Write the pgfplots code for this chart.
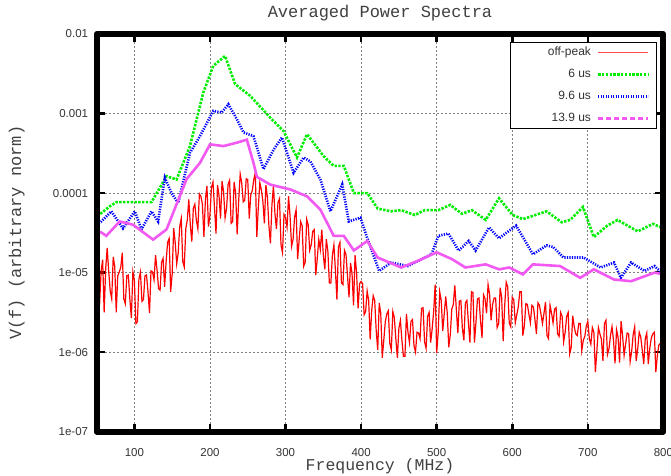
\documentclass[border=0pt]{standalone}
\usepackage{fontspec}
\setmainfont{Liberation Sans}
\newfontfamily\cour{Liberation Mono}
\usepackage{pgfplots}
\pgfplotsset{compat=1.18}

\definecolor{offred}{rgb}{1,0,0}
\definecolor{grn}{rgb}{0,0.93,0}
\definecolor{blu}{rgb}{0,0,1}
\definecolor{mag}{rgb}{0.95,0.35,0.95}

\begin{document}
\begin{tikzpicture}
\useasboundingbox (-96.6pt,-43.3pt) rectangle (574.4pt,431.7pt);
\begin{axis}[
    at={(0pt,0pt)}, anchor=south west,
    scale only axis, width=566.8pt, height=397.7pt,
    xmin=50, xmax=800, ymin=1e-7, ymax=1e-2, ymode=log,
    xtick={100,200,...,800},
    ytick={1e-7,1e-6,1e-5,1e-4,1e-3,1e-2},
    yticklabels={1e-07,1e-06,1e-05,0.0001,0.001,0.01},
    minor tick length=0pt,
    grid=major,
    grid style={black!50, line width=0.7pt, dash pattern=on 2pt off 2pt},
    axis line style={draw=none},
    tick align=inside,
    major tick length=8pt,
    tick style={black, line width=2.5pt},
    ticklabel style={font=\fontsize{11.5}{13}\selectfont, text=black!80},
    /pgf/number format/assume math mode=true,
    xticklabel style={anchor=base, inner sep=0pt, yshift=-24.5pt},
    yticklabel style={anchor=east, xshift=-5pt},
    title={Averaged Power Spectra},
    title style={font=\cour\fontsize{17}{20}\selectfont, text=black!75,
      at={(0.5,1.0264)}, anchor=base},
    xlabel={Frequency (MHz)},
    every axis x label/.style={at={(axis description cs:0.5,-0.0985)}, anchor=base, inner sep=0pt,
      font=\cour\fontsize{16.5}{20}\selectfont, text=black!75},
    ylabel={V(f) (arbitrary norm)},
    every axis y label/.style={at={(axis description cs:-0.1411,0.5)}, rotate=90, anchor=center,
      font=\cour\fontsize{17}{20}\selectfont, text=black!75},
    clip mode=individual,
    legend style={at={(0.9887,0.98)}, anchor=north east, draw=black, line width=0.8pt,
      fill=white, font=\fontsize{12}{14}\selectfont, text=black!80,
      inner xsep=7pt, inner ysep=2.5pt, row sep=7pt, column sep=4pt,
      nodes={inner sep=2pt, text height=8.6pt, text depth=2.5pt}},
    legend cell align=right, legend plot pos=right,
    legend image code/.code={\draw[#1] (0pt,0pt) -- (50pt,0pt);},
  ]
% off-peak
\addplot[offred, line width=1.2pt, forget plot] coordinates {
(50,2.82e-6) (52,2.88e-6) (54,4.07e-6) (56,1.05e-5) (58,1.45e-5) (60,3.16e-6) (62,1.10e-5) (64,2.04e-5)
(66,1.05e-5) (68,5.89e-6) (70,4.68e-6) (72,1.58e-5) (74,1.20e-5) (76,3.16e-6) (78,9.12e-6) (80,1.02e-5)
(82,1.17e-5) (84,1.78e-5) (86,4.68e-6) (88,4.07e-6) (90,9.12e-6) (92,9.33e-6) (94,4.68e-6) (96,2.69e-6)
(98,1.02e-5) (100,7.94e-6) (102,2.29e-6) (104,2.40e-6) (106,8.32e-6) (108,1.02e-5) (110,4.37e-6) (112,4.57e-6)
(114,9.12e-6) (116,9.33e-6) (118,5.75e-6) (120,3.09e-6) (122,1.05e-5) (124,1.02e-5) (126,8.13e-6) (128,1.66e-5)
(130,1.07e-5) (132,6.31e-6) (134,6.03e-6) (136,1.35e-5) (138,1.51e-5) (140,6.61e-6) (142,1.38e-5) (144,2.40e-5)
(146,2.69e-5) (148,5.75e-6) (150,9.55e-6) (152,3.63e-5) (154,2.40e-5) (156,1.29e-5) (158,1.78e-5) (160,3.80e-5)
(162,4.79e-5) (164,1.38e-5) (166,1.18e-5) (168,3.55e-5) (170,4.57e-5) (172,8.32e-5) (174,3.98e-5) (176,2.45e-5)
(178,6.46e-5) (180,7.24e-5) (182,4.57e-5) (184,3.55e-5) (186,9.77e-5) (188,9.12e-5) (190,7.24e-5) (192,2.82e-5)
(194,8.32e-5) (196,1.23e-4) (198,3.80e-5) (200,5.25e-5) (202,1.18e-4) (204,1.38e-4) (206,6.61e-5) (208,3.09e-5)
(210,1.26e-4) (212,9.33e-5) (214,4.79e-5) (216,1.41e-4) (218,1.05e-4) (220,4.90e-5) (222,6.46e-5) (224,1.29e-4)
(226,1.45e-4) (228,4.17e-5) (230,4.37e-5) (232,1.38e-4) (234,1.00e-4) (236,3.02e-5) (238,7.94e-5) (240,1.74e-4)
(242,1.35e-4) (244,7.76e-5) (246,8.13e-5) (248,1.51e-4) (250,1.48e-4) (252,4.79e-5) (254,9.55e-5) (256,1.07e-4)
(258,1.48e-4) (260,1.80e-4) (262,2.82e-5) (264,6.61e-5) (266,1.35e-4) (268,1.10e-4) (270,7.94e-5) (272,4.17e-5)
(274,1.26e-4) (276,8.91e-5) (278,3.89e-5) (280,2.34e-5) (282,7.08e-5) (284,1.23e-4) (286,5.50e-5) (288,3.55e-5)
(290,7.59e-5) (292,8.51e-5) (294,2.24e-5) (296,1.78e-5) (298,5.37e-5) (300,4.90e-5) (302,3.72e-5) (304,9.12e-5)
(306,5.13e-5) (308,2.14e-5) (310,2.63e-5) (312,5.01e-5) (314,6.17e-5) (316,1.48e-5) (318,2.57e-5) (320,4.37e-5)
(322,3.89e-5) (324,1.20e-5) (326,1.35e-5) (328,4.68e-5) (330,3.98e-5) (332,1.91e-5) (334,2.24e-5) (336,3.31e-5)
(338,3.47e-5) (340,9.33e-6) (342,1.51e-5) (344,2.63e-5) (346,1.95e-5) (348,3.47e-5) (350,1.66e-5) (352,1.10e-5)
(354,2.63e-5) (356,1.86e-5) (358,7.41e-6) (360,7.41e-6) (362,1.66e-5) (364,2.24e-5) (366,1.07e-5) (368,4.57e-6)
(370,2.09e-5) (372,2.40e-5) (374,7.41e-6) (376,7.08e-6) (378,1.91e-5) (380,1.70e-5) (382,9.12e-6) (384,4.90e-6)
(386,1.32e-5) (388,9.77e-6) (390,3.89e-6) (392,1.66e-5) (394,1.00e-5) (396,3.55e-6) (398,7.24e-6) (400,7.76e-6)
(402,7.24e-6) (404,2.95e-6) (406,3.24e-6) (408,5.89e-6) (410,4.47e-6) (412,1.45e-6) (414,3.31e-6) (416,5.13e-6)
(418,4.47e-6) (420,1.86e-6) (422,1.07e-6) (424,4.17e-6) (426,3.09e-6) (428,8.51e-7) (430,1.41e-6) (432,2.40e-6)
(434,3.02e-6) (436,3.31e-6) (438,1.29e-6) (440,1.07e-6) (442,3.24e-6) (444,2.69e-6) (446,1.45e-6) (448,8.50e-7)
(450,2.00e-6) (452,2.51e-6) (454,1.41e-6) (456,8.91e-7) (458,8.91e-7) (460,3.02e-6) (462,1.78e-6) (464,1.32e-6)
(466,2.45e-6) (468,2.57e-6) (470,1.20e-6) (472,1.00e-6) (474,1.78e-6) (476,1.74e-6) (478,1.48e-6) (480,3.55e-6)
(482,3.63e-6) (484,1.35e-6) (486,1.12e-6) (488,2.82e-6) (490,3.16e-6) (492,1.32e-6) (494,1.95e-6) (496,3.24e-6)
(498,7.08e-6) (500,9.77e-7) (502,1.78e-6) (504,5.75e-6) (506,4.47e-6) (508,1.86e-6) (510,3.02e-6) (512,5.01e-6)
(514,3.09e-6) (516,1.15e-6) (518,1.66e-6) (520,3.47e-6) (522,3.98e-6) (524,6.92e-6) (526,3.47e-6) (528,1.74e-6)
(530,4.37e-6) (532,4.47e-6) (534,2.00e-6) (536,1.41e-6) (538,4.17e-6) (540,4.47e-6) (542,2.34e-6) (544,1.32e-6)
(546,5.75e-6) (548,5.62e-6) (550,1.32e-6) (552,2.40e-6) (554,4.68e-6) (556,4.79e-6) (558,2.51e-6) (560,1.51e-6)
(562,5.25e-6) (564,4.68e-6) (566,3.09e-6) (568,7.08e-6) (570,5.37e-6) (572,2.51e-6) (574,3.98e-6) (576,4.79e-6)
(578,4.79e-6) (580,2.04e-6) (582,2.29e-6) (584,6.46e-6) (586,4.90e-6) (588,1.38e-6) (590,3.89e-6) (592,7.59e-6)
(594,6.61e-6) (596,2.34e-6) (598,2.09e-6) (600,4.90e-6) (602,4.57e-6) (604,2.34e-6) (606,2.95e-6) (608,3.72e-6)
(610,5.75e-6) (612,5.75e-6) (614,1.62e-6) (616,2.14e-6) (618,4.07e-6) (620,3.98e-6) (622,3.02e-6) (624,2.34e-6)
(626,3.89e-6) (628,3.72e-6) (630,2.57e-6) (632,1.70e-6) (634,4.17e-6) (636,3.89e-6) (638,3.02e-6) (640,2.29e-6)
(642,3.09e-6) (644,4.27e-6) (646,1.62e-6) (648,1.48e-6) (650,3.89e-6) (652,3.09e-6) (654,2.34e-6) (656,3.47e-6)
(658,3.63e-6) (660,1.70e-6) (662,1.58e-6) (664,3.16e-6) (666,2.82e-6) (668,1.35e-6) (670,1.78e-6) (672,2.82e-6)
(674,3.16e-6) (676,9.55e-7) (678,1.15e-6) (680,2.88e-6) (682,2.09e-6) (684,1.70e-6) (686,1.62e-6) (688,2.29e-6)
(690,2.29e-6) (692,1.05e-6) (694,1.41e-6) (696,1.58e-6) (698,2.14e-6) (700,2.45e-6) (702,1.48e-6) (704,1.26e-6)
(706,2.04e-6) (708,1.78e-6) (710,5.62e-7) (712,1.05e-6) (714,2.04e-6) (716,1.70e-6) (718,1.45e-6) (720,7.76e-7)
(722,2.29e-6) (724,2.51e-6) (726,9.33e-7) (728,1.10e-6) (730,1.62e-6) (732,2.09e-6) (734,1.41e-6) (736,7.24e-7)
(738,1.91e-6) (740,1.55e-6) (742,7.41e-7) (744,2.45e-6) (746,1.62e-6) (748,9.12e-7) (750,1.26e-6) (752,1.74e-6)
(754,1.70e-6) (756,7.59e-7) (758,1.02e-6) (760,1.66e-6) (762,2.09e-6) (764,7.76e-7) (766,1.10e-6) (768,1.78e-6)
(770,1.55e-6) (772,1.07e-6) (774,7.08e-7) (776,1.48e-6) (778,1.74e-6) (780,7.08e-7) (782,1.12e-6) (784,1.51e-6)
(786,1.70e-6) (788,1.78e-6) (790,5.62e-7) (792,9.12e-7) (794,1.23e-6) (796,1.29e-6) (798,1.12e-6) (800,1.41e-6)
};
% 6 us
\addplot[grn, line width=2.6pt, dash pattern=on 2.4pt off 1.4pt, forget plot] coordinates {
(50,5.3e-5) (56.2,5.6e-5) (67.3,6.8e-5) (76.2,7.7e-5) (122.6,7.7e-5) (142.6,1.63e-4) (155.8,1.48e-4)
(173.5,3.9e-4) (191.2,1.84e-3) (204.4,3.98e-3) (220,5.3e-3) (233.3,2.34e-3) (253.2,1.67e-3) (279.7,8.9e-4)
(297.4,6.0e-4) (315.2,2.8e-4) (328.5,5.5e-4) (350.5,2.9e-4) (363.8,2.2e-4) (377.1,2.2e-4) (390.4,1.0e-4)
(408.2,1.0e-4) (421.8,6.4e-5) (439.1,5.9e-5) (453,6.1e-5) (471,5.3e-5) (484.3,6.1e-5) (502.2,6.1e-5)
(517.9,7.1e-5) (533.4,5.5e-5) (546.7,6.1e-5) (564.9,4.6e-5) (582.5,8.6e-5) (600.6,5.3e-5) (614,4.7e-5)
(645.4,5.9e-5) (665.4,4.3e-5) (676.7,4.6e-5) (693.6,6.7e-5) (707.9,2.8e-5) (725.8,3.9e-5) (739.3,4.6e-5)
(766.1,3.3e-5) (786.1,4.1e-5) (800,3.6e-5)
};
% 9.6 us
\addplot[blu, line width=2.6pt, dash pattern=on 1.2pt off 1.3pt, forget plot] coordinates {
(50,4.0e-5) (56.2,4.4e-5) (69.5,5.9e-5) (84.9,3.6e-5) (100.5,5.9e-5) (109.4,3.5e-5) (122.6,5.9e-5)
(131.4,4.4e-5) (140.3,1.56e-4) (149.2,1.0e-4) (158,7.5e-5) (173.5,3.2e-4) (186.8,5.2e-4) (204.4,1.08e-3)
(215.5,1.03e-3) (224.3,1.31e-3) (235.5,8.5e-4) (244.3,5.8e-4) (257.6,5.2e-4) (270.8,2.0e-4) (284.1,3.5e-4)
(295.2,5.0e-4) (310.7,1.8e-4) (324,2.8e-4) (332.9,2.5e-4) (346.1,1.48e-4) (359.4,5.9e-5) (375,1.28e-4)
(383.7,4.4e-5) (399.2,4.9e-5) (408.2,2.7e-5) (423.9,1.05e-5) (439.6,1.34e-5) (462,1.21e-5) (493.3,1.71e-5)
(502.2,2.9e-5) (515.6,3.1e-5) (529,1.89e-5) (542.4,2.5e-5) (551.5,1.9e-5) (569.3,3.7e-5) (582.5,2.7e-5)
(605.1,3.9e-5) (627.4,1.7e-5) (645.4,2.2e-5) (654.2,2.1e-5) (667.7,1.55e-5) (694.5,1.55e-5) (716.9,1.16e-5)
(734.7,1.34e-5) (743.7,8.6e-6) (757.2,1.34e-5) (775,1.05e-5) (788.4,1.21e-5) (800,9.5e-6)
};
% 13.9 us
\addplot[mag, line width=2.6pt, forget plot] coordinates {
(50,3.3e-5) (56.2,3.2e-5) (62.9,2.9e-5) (80.5,4.4e-5) (98.2,4.0e-5) (124.8,2.6e-5) (142.6,3.5e-5)
(169.1,1.5e-4) (186.8,2.4e-4) (200.1,4.1e-4) (217.7,3.9e-4) (235.5,4.3e-4) (248.8,4.7e-4) (257.6,2.4e-4)
(262.1,1.6e-4) (279.7,1.28e-4) (306.3,1.11e-4) (328.5,9.1e-5) (346.1,6.2e-5) (363.8,2.9e-5) (377.1,2.9e-5)
(390.4,1.9e-5) (408.2,2.5e-5) (421.8,1.55e-5) (453,1.16e-5) (475.3,1.41e-5) (500,1.8e-5) (520.1,1.48e-5)
(538,1.16e-5) (564.9,1.27e-5) (582.7,1.1e-5) (596.1,1.16e-5) (614,9.5e-6) (627.4,1.27e-5) (663.3,1.21e-5)
(690,8.6e-6) (707.9,1.1e-5) (734.7,8.2e-6) (757.2,7.8e-6) (788.4,1.0e-5) (800,9.5e-6)
};
\draw[black, line width=6pt, line join=round] (rel axis cs:0,0) rectangle (rel axis cs:1,1);
\addlegendimage{offred!70, line width=1.3pt}
\addlegendentry{\hspace*{28pt}off-peak}
\addlegendimage{grn, line width=2.6pt, dash pattern=on 2.4pt off 1.4pt}
\addlegendentry{6 us}
\addlegendimage{blu, line width=2.6pt, dash pattern=on 1.2pt off 1.3pt}
\addlegendentry{9.6 us}
\addlegendimage{mag, line width=2.6pt, dash pattern=on 5pt off 3pt}
\addlegendentry{13.9 us}
\end{axis}
\end{tikzpicture}
\end{document}
